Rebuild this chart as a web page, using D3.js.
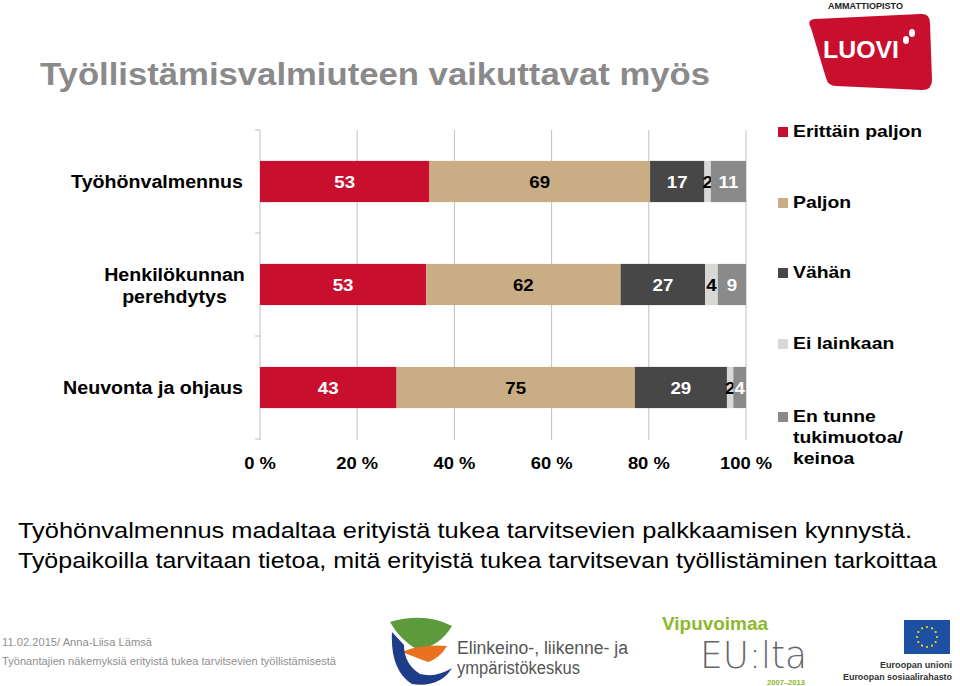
<!DOCTYPE html>
<html><head><meta charset="utf-8">
<script src="https://cdn.jsdelivr.net/npm/d3@7"></script>
<style>body{margin:0;background:#fff}svg{display:block;font-family:Arial,"Liberation Sans",sans-serif}</style>
</head><body>
<svg id="c" width="960" height="686"></svg>
<script>
const categories = [["Työhönvalmennus"], ["Henkilökunnan", "perehdytys"], ["Neuvonta ja ohjaus"]];
const seriesNames = ["Erittäin paljon", "Paljon", "Vähän", "Ei lainkaan", "En tunne tukimuotoa/ keinoa"];
const seriesColors = ["#c8102e", "#c8ad85", "#474747", "#d8d8d6", "#8a8a8a"];
const labelColors = ["#fff", "#000", "#fff", "#000", "#fff"];
const values = [
  [53, 69, 17, 2, 11],
  [53, 62, 27, 4, 9],
  [43, 75, 29, 2, 4]
];
const tickValues = [0, 0.2, 0.4, 0.6, 0.8, 1.0];
const tickLabels = ["0 %", "20 %", "40 %", "60 %", "80 %", "100 %"];

const svg = d3.select("#c");

// stretch helpers (the reference text is horizontally widened)
function stretch(sel, k) {
  sel.each(function () {
    const w = this.getComputedTextLength();
    d3.select(this).attr("textLength", w * k).attr("lengthAdjust", "spacingAndGlyphs");
  });
  return sel;
}
function fitTo(sel, w) {
  return sel.attr("textLength", w).attr("lengthAdjust", "spacingAndGlyphs");
}

// title
fitTo(svg.append("text").attr("x", 40).attr("y", 85).attr("font-size", 31).attr("font-weight", "bold")
  .attr("fill", "#8a8a8a").text("Työllistämisvalmiuteen vaikuttavat myös"), 670);

const x = d3.scaleLinear().domain([0, 1]).range([260, 746]);
const y = d3.scaleBand().domain(d3.range(categories.length)).range([130, 439]).paddingInner(0.6).paddingOuter(0.3);

// gridlines
svg.append("g").selectAll("line").data(tickValues.slice(1)).join("line")
  .attr("x1", d => x(d)).attr("x2", d => x(d)).attr("y1", 130).attr("y2", 440)
  .attr("stroke", "#c0c0c0").attr("stroke-width", 1);
// category axis
svg.append("line").attr("x1", 260).attr("x2", 260).attr("y1", 130).attr("y2", 440).attr("stroke", "#c0c0c0");
const bandEdges = [0, 1, 2, 3].map(i => 130 + i * y.step());
svg.append("g").selectAll("line").data(bandEdges).join("line")
  .attr("x1", 255).attr("x2", 260).attr("y1", d => d).attr("y2", d => d).attr("stroke", "#c0c0c0");

// tick labels
stretch(svg.append("g").selectAll("text").data(tickValues).join("text")
  .attr("x", d => x(d)).attr("y", 469).attr("text-anchor", "middle")
  .attr("font-size", 17).attr("font-weight", "bold").attr("fill", "#000")
  .text((d, i) => tickLabels[i]), 1.08);

// bars
values.forEach((row, ri) => {
  const total = d3.sum(row);
  let cum = 0;
  const g = svg.append("g");
  row.forEach((v, si) => {
    const x0 = x(cum / total), x1 = x((cum + v) / total);
    g.append("rect").attr("x", x0).attr("y", y(ri)).attr("width", x1 - x0).attr("height", y.bandwidth())
      .attr("fill", seriesColors[si]);
    stretch(g.append("text").attr("x", (x0 + x1) / 2).attr("y", y(ri) + y.bandwidth() / 2 + 6)
      .attr("text-anchor", "middle").attr("font-size", 17).attr("font-weight", "bold")
      .attr("fill", labelColors[si]).text(v), 1.1);
    cum += v;
  });
  // category label
  const lines = categories[ri];
  const cy = y(ri) + y.bandwidth() / 2;
  if (lines.length === 1) {
    stretch(svg.append("text").attr("x", 243).attr("y", cy + 6).attr("text-anchor", "end")
      .attr("font-size", 18).attr("font-weight", "bold").text(lines[0]), 1.09);
  } else {
    lines.forEach((l, li) => {
      stretch(svg.append("text").attr("x", 174.5).attr("y", cy - 4 + li * 22)
        .attr("text-anchor", "middle").attr("font-size", 18).attr("font-weight", "bold").text(l), 1.09);
    });
  }
});

// legend
const legY = [131, 202, 272, 343, 416];
const legLines = [["Erittäin paljon"], ["Paljon"], ["Vähän"], ["Ei lainkaan"], ["En tunne", "tukimuotoa/", "keinoa"]];
seriesNames.forEach((n, i) => {
  svg.append("rect").attr("x", 778).attr("y", legY[i] - 4).attr("width", 10).attr("height", 10).attr("fill", seriesColors[i]);
  legLines[i].forEach((l, li) => {
    stretch(svg.append("text").attr("x", 793).attr("y", legY[i] + 6 + li * 21).attr("font-size", 17)
      .attr("font-weight", "bold").text(l), 1.14);
  });
});

// bottom text
fitTo(svg.append("text").attr("x", 18).attr("y", 538).attr("font-size", 22).text("Työhönvalmennus madaltaa erityistä tukea tarvitsevien palkkaamisen kynnystä."), 894);
fitTo(svg.append("text").attr("x", 18).attr("y", 568).attr("font-size", 22).text("Työpaikoilla tarvitaan tietoa, mitä erityistä tukea tarvitsevan työllistäminen tarkoittaa"), 919);

// footer
fitTo(svg.append("text").attr("x", 2).attr("y", 646).attr("font-size", 11.5).attr("fill", "#8f8f8f").text("11.02.2015/ Anna-Liisa Lämsä"), 150);
fitTo(svg.append("text").attr("x", 2).attr("y", 665).attr("font-size", 11.5).attr("fill", "#8f8f8f").text("Työnantajien näkemyksiä erityistä tukea tarvitsevien työllistämisestä"), 334);

// LUOVI logo
fitTo(svg.append("text").attr("x", 828).attr("y", 8.5).attr("font-size", 8.5).attr("font-weight", "bold").attr("fill", "#222").text("AMMATTIOPISTO"), 75);
svg.append("path").attr("d", "M811,28 Q806,20 815,19 L920,14 Q930,13 930,23 L932,80 Q932,90 922,90 L836,86 Q828,86 826,78 Z").attr("fill", "#c8102e");
fitTo(svg.append("text").attr("x", 823).attr("y", 58).attr("font-size", 24).attr("font-weight", "bold").attr("fill", "#fff").text("LUOVI"), 76);
svg.append("ellipse").attr("cx", 906).attr("cy", 40).attr("rx", 3).attr("ry", 4).attr("fill", "#fff");
svg.append("ellipse").attr("cx", 912).attr("cy", 33).attr("rx", 3).attr("ry", 4).attr("fill", "#fff");

// ELY logo
svg.append("path").attr("d", "M390,622 Q425,612 452,626 Q440,646 418,650 Q400,640 390,622 Z").attr("fill", "#5c9a3c");
svg.append("path").attr("d", "M402,652 Q420,644 447,646 Q440,658 428,662 Q412,656 402,652 Z").attr("fill", "#e8711f");
svg.append("path").attr("d", "M392,632 Q390,670 412,684 Q440,688 452,668 Q436,678 420,674 Q404,664 404,645 Z").attr("fill", "#1f3c88");
fitTo(svg.append("text").attr("x", 457).attr("y", 654).attr("font-size", 18).attr("fill", "#555").text("Elinkeino-, liikenne- ja"), 171);
fitTo(svg.append("text").attr("x", 457).attr("y", 674).attr("font-size", 18).attr("fill", "#555").text("ympäristökeskus"), 123);

// Vipuvoimaa
fitTo(svg.append("text").attr("x", 662).attr("y", 630).attr("font-size", 19).attr("font-weight", "bold").attr("fill", "#8cb82d").text("Vipuvoimaa"), 106);
fitTo(svg.append("text").attr("x", 700).attr("y", 668).attr("font-size", 38).attr("fill", "#666").attr("font-family", "DejaVu Sans").attr("font-weight", "200").text("EU:lta"), 107);
fitTo(svg.append("text").attr("x", 767).attr("y", 684.5).attr("font-size", 6.5).attr("fill", "#8cb82d").attr("font-weight", "bold").text("2007–2013"), 38);

// EU flag
svg.append("rect").attr("x", 904).attr("y", 620).attr("width", 46).attr("height", 34).attr("fill", "#1d4fa3");
d3.range(12).forEach(i => {
  const a = i / 12 * 2 * Math.PI;
  svg.append("circle").attr("cx", 927 + 10 * Math.cos(a)).attr("cy", 637 + 10 * Math.sin(a)).attr("r", 1.1).attr("fill", "#ffdd00");
});
fitTo(svg.append("text").attr("x", 952).attr("y", 668).attr("text-anchor", "end").attr("font-size", 9.5).attr("font-weight", "bold").attr("fill", "#333").text("Euroopan unioni"), 72);
fitTo(svg.append("text").attr("x", 952).attr("y", 680).attr("text-anchor", "end").attr("font-size", 9).attr("font-weight", "bold").attr("fill", "#333").text("Euroopan sosiaalirahasto"), 109);
</script>
</body></html>
